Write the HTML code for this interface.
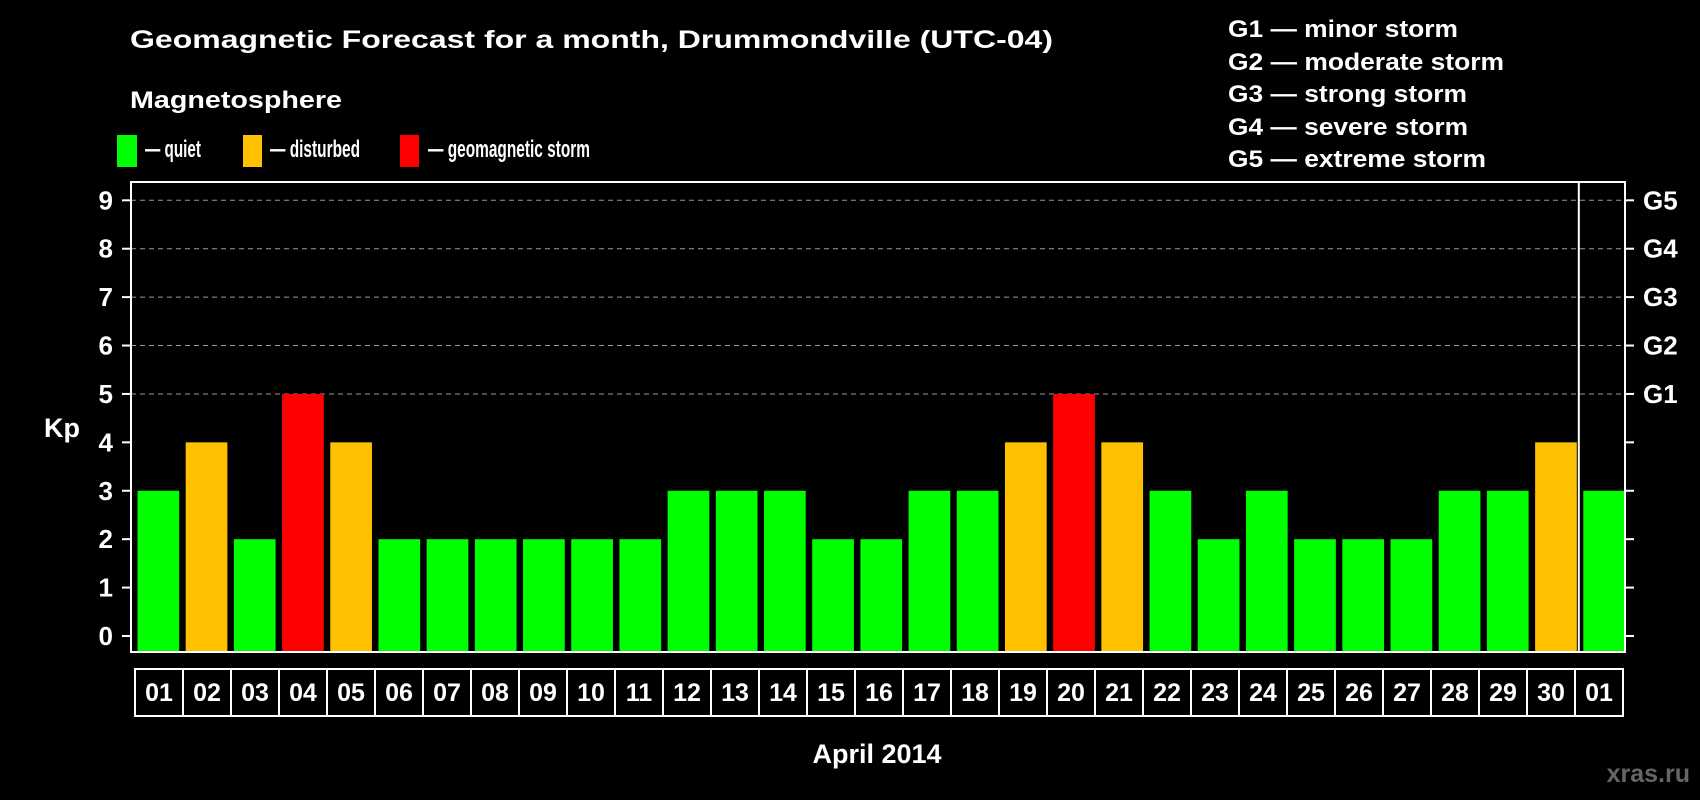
<!DOCTYPE html>
<html><head><meta charset="utf-8"><style>
html,body{margin:0;padding:0;background:#000;}
svg{display:block;font-family:"Liberation Sans",sans-serif;font-weight:bold;}
</style></head><body>
<svg id="chart" width="1700" height="800" viewBox="0 0 1700 800">
<rect width="1700" height="800" fill="#000"/>
<text x="130" y="48" font-size="25" fill="#fff" textLength="923" lengthAdjust="spacingAndGlyphs">Geomagnetic Forecast for a month, Drummondville (UTC-04)</text>
<text x="130" y="108" font-size="24" fill="#fff" textLength="212" lengthAdjust="spacingAndGlyphs">Magnetosphere</text>
<g><rect x="117" y="135" width="20" height="32" fill="#00ff00"/><text x="145" y="157" font-size="24" fill="#fff" textLength="56" lengthAdjust="spacingAndGlyphs">— quiet</text></g>
<g><rect x="243" y="135" width="19" height="32" fill="#ffc000"/><text x="270" y="157" font-size="24" fill="#fff" textLength="90" lengthAdjust="spacingAndGlyphs">— disturbed</text></g>
<g><rect x="400" y="135" width="19" height="32" fill="#ff0000"/><text x="428" y="157" font-size="24" fill="#fff" textLength="162" lengthAdjust="spacingAndGlyphs">— geomagnetic storm</text></g>
<g font-size="24" fill="#fff">
<text x="1228" y="37" textLength="230" lengthAdjust="spacingAndGlyphs">G1 — minor storm</text>
<text x="1228" y="70" textLength="276" lengthAdjust="spacingAndGlyphs">G2 — moderate storm</text>
<text x="1228" y="102" textLength="239" lengthAdjust="spacingAndGlyphs">G3 — strong storm</text>
<text x="1228" y="135" textLength="240" lengthAdjust="spacingAndGlyphs">G4 — severe storm</text>
<text x="1228" y="167" textLength="258" lengthAdjust="spacingAndGlyphs">G5 — extreme storm</text>
</g>
<g id="plot"></g>
<text x="62" y="437" font-size="27" fill="#fff" text-anchor="middle">Kp</text>
<text x="877" y="763" font-size="27" fill="#fff" text-anchor="middle">April 2014</text>
<text x="1690" y="782" font-size="25" fill="#666" text-anchor="end">xras.ru</text>
</svg>
<script>
const days = ["01","02","03","04","05","06","07","08","09","10","11","12","13","14","15","16","17","18","19","20","21","22","23","24","25","26","27","28","29","30","01"];
const kp = [3,4,2,5,4,2,2,2,2,2,2,3,3,3,2,2,3,3,4,5,4,3,2,3,2,2,2,3,3,4,3];
const yTicks = [0,1,2,3,4,5,6,7,8,9];
const gLabels = ["G1","G2","G3","G4","G5"];
const gLevels = [5,6,7,8,9];

const NS = "http://www.w3.org/2000/svg";
const L = 131, R = 1625, T = 182, B = 652;
const y0 = 636, unit = (636 - 200.3) / 9;
const slot = (R - L) / days.length;
const yScale = v => y0 - v * unit;
const xScale = i => L + i * slot;
const g = document.getElementById("plot");
function mk(tag, attrs) { const e = document.createElementNS(NS, tag); for (const k in attrs) e.setAttribute(k, attrs[k]); g.appendChild(e); return e; }
function color(v) { return v >= 5 ? "#ff0000" : v >= 4 ? "#ffc000" : "#00ff00"; }

yTicks.forEach(t => {
  const y = yScale(t);
  if (t >= 5) {
    const gl = mk("line", {x1: L, x2: R, y1: y, y2: y, stroke: "#999", "stroke-width": 1, "stroke-dasharray": "5,4"});
    
    
  }
  const tk = mk("line", {x1: L - 9, x2: L, y1: y, y2: y, stroke: "#fff", "stroke-width": 2});
  
  
  const tr = mk("line", {x1: R, x2: R + 9, y1: y, y2: y, stroke: "#fff", "stroke-width": 2});
  
  
  const lb = mk("text", {x: 113, y: y + 9, "font-size": 26, fill: "#fff", "text-anchor": "end"});
  lb.textContent = t;
  
  
});
gLabels.forEach((s, i) => {
  const t = mk("text", {x: 1643, y: yScale(gLevels[i]) + 9, "font-size": 26, fill: "#fff"});
  t.textContent = s;
  
  
});
kp.forEach((v, i) => {
  const b = mk("rect", {x: xScale(i) + 6.5, y: yScale(v), width: slot - 6.5, height: B - yScale(v), fill: color(v)});
  
  
});
const fr = mk("rect", {x: L, y: T, width: R - L, height: B - T, fill: "none", stroke: "#fff", "stroke-width": 2});


const sep = mk("line", {x1: xScale(days.length - 1) + 2, x2: xScale(days.length - 1) + 2, y1: T, y2: B, stroke: "#fff", "stroke-width": 2});


const bw = 48, bx0 = 135;
days.forEach((d, i) => {
  const r = mk("rect", {x: bx0 + i * bw, y: 669, width: bw, height: 47, fill: "none", stroke: "#fff", "stroke-width": 2});
  
  
  const t = mk("text", {x: bx0 + i * bw + bw / 2, y: 701, "font-size": 25, fill: "#fff", "text-anchor": "middle"});
  t.textContent = d;
  
  
});
</script>
</body></html>
